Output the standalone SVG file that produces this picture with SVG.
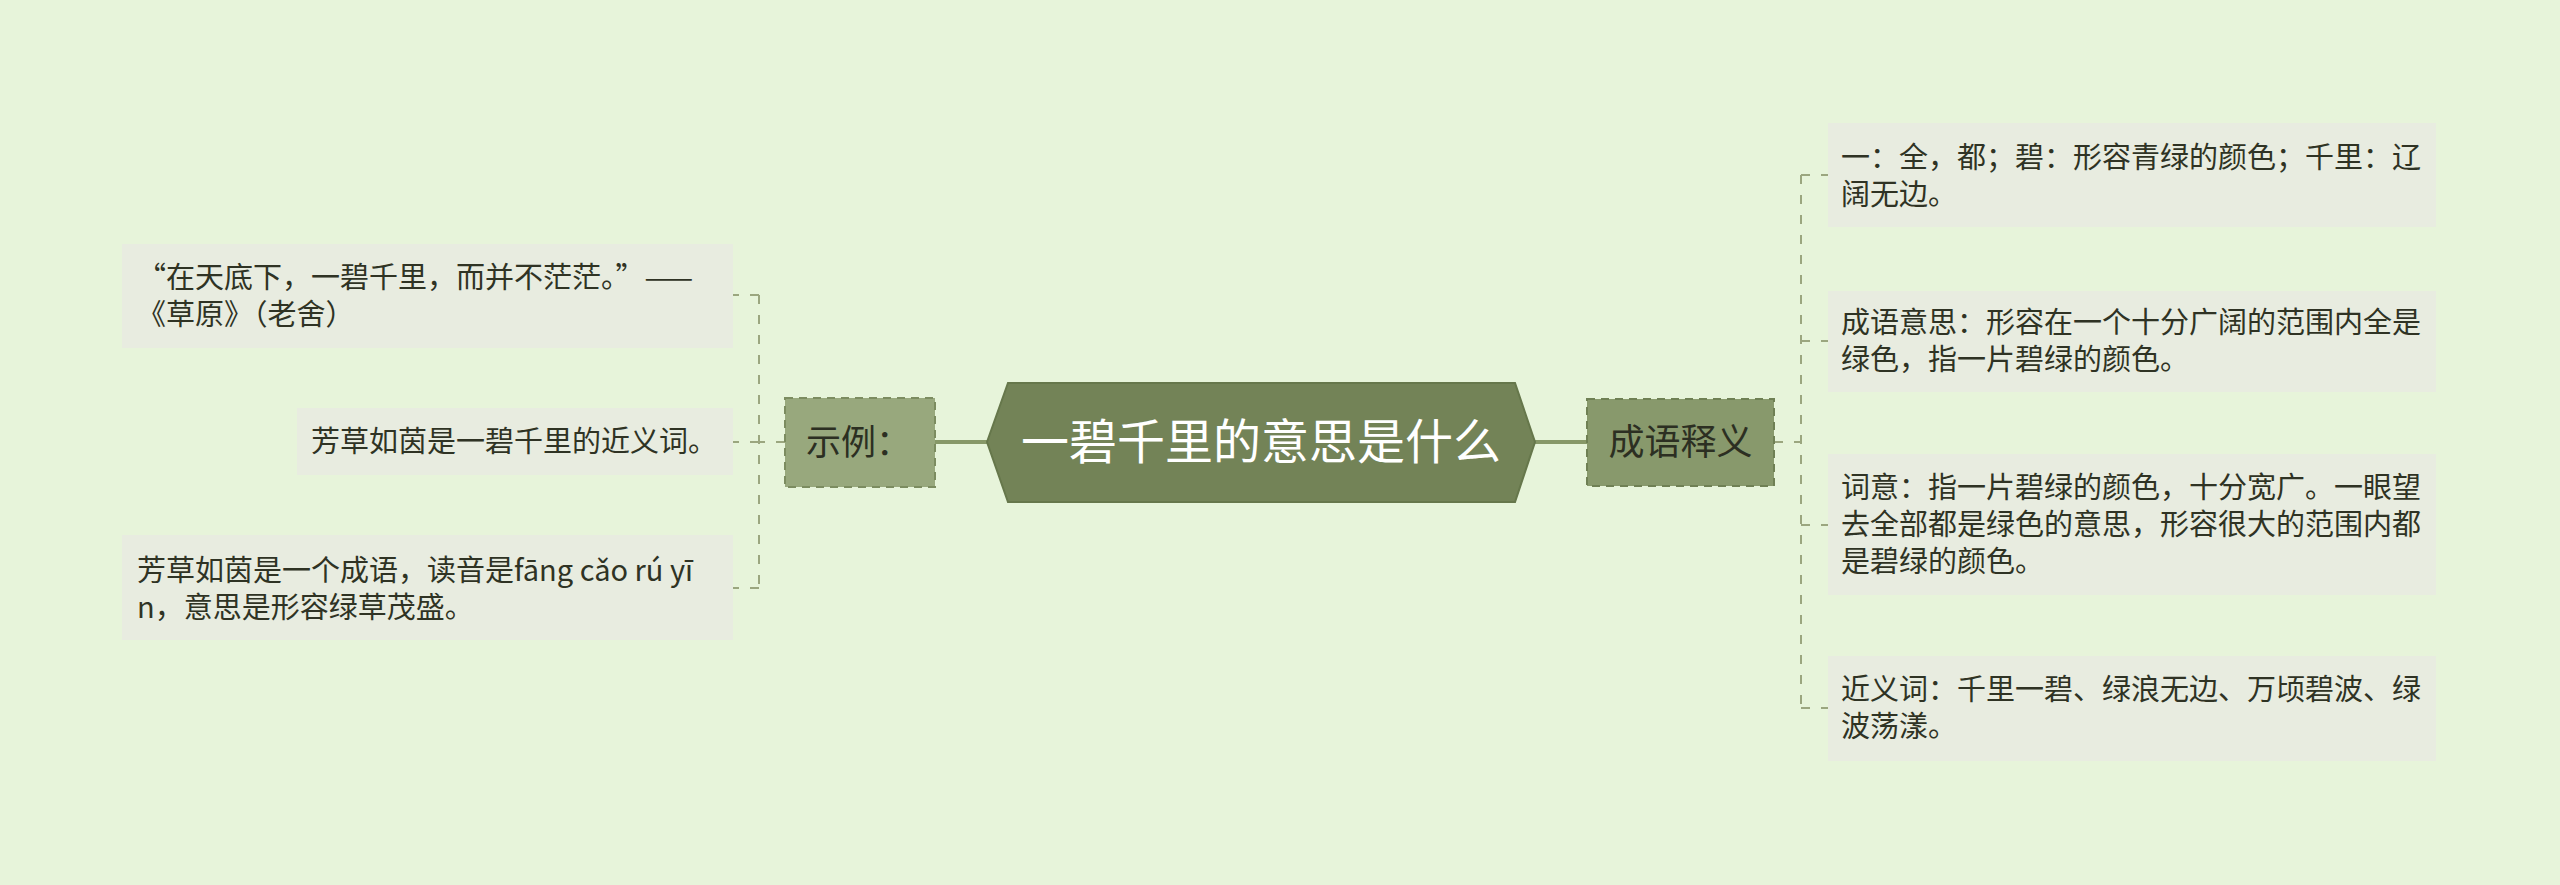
<svg xmlns="http://www.w3.org/2000/svg" width="2560" height="885" viewBox="0 0 2560 885">
<style>
.leaf{fill:#e8ece0;}
.lt{font-family:"Noto Sans CJK SC","Noto Sans",sans-serif;font-size:29px;fill:#2f3324;}
.mid{font-family:"Noto Sans CJK SC","Noto Sans",sans-serif;font-size:35px;fill:#2c2f22;}
.dash{fill:none;stroke:#9ba67f;stroke-width:2;stroke-dasharray:9 11;}
.solid{fill:none;stroke:#879868;stroke-width:4;}
</style>
<rect x="0" y="0" width="2560" height="885" fill="#e7f4da"/>
<g id="connectors">
<line class="solid" x1="935" y1="442" x2="987" y2="442"/>
<line class="solid" x1="1535" y1="442" x2="1587" y2="442"/>
<path class="dash" d="M785 442 H759 M759 295 V588 M759 295 H733 M759 442 H733 M759 588 H733"/>
<path class="dash" d="M1774 442 H1801 M1801 175 V708 M1801 175 H1828 M1801 341 H1828 M1801 525 H1828 M1801 708 H1828"/>
</g>
<g id="root">
<polygon points="987,442 1008,383 1515,383 1535,442 1515,502 1008,502" fill="#738357" stroke="#66774b" stroke-width="2"/>
<text x="1261" y="459" text-anchor="middle" font-family="Noto Sans CJK SC, sans-serif" font-size="48" fill="#ffffff">一碧千里的意思是什么</text>
</g>
<g id="branch-right">
<rect x="1587" y="399" width="187" height="87" fill="#88996c" stroke="#6f8054" stroke-width="2" stroke-dasharray="8 6"/>
<text class="mid" x="1680.5" y="455" text-anchor="middle" font-size="36" style="font-size:36px">成语释义</text>
</g>
<g id="branch-left">
<rect x="785" y="398" width="150" height="89" fill="#98a87d" stroke="#7c8c60" stroke-width="2" stroke-dasharray="8 6"/>
<text class="mid" x="806" y="455">示例：</text>
</g>
<g id="r1">
<rect class="leaf" x="1828" y="123" width="608" height="104"/>
<text class="lt" x="1841" y="168">一：全，都；碧：形容青绿的颜色；千里：辽</text>
<text class="lt" x="1841" y="205">阔无边。</text>
</g>
<g id="r2">
<rect class="leaf" x="1828" y="291" width="608" height="101"/>
<text class="lt" x="1841" y="333">成语意思：形容在一个十分广阔的范围内全是</text>
<text class="lt" x="1841" y="370">绿色，指一片碧绿的颜色。</text>
</g>
<g id="r3">
<rect class="leaf" x="1828" y="454" width="608" height="141"/>
<text class="lt" x="1841" y="498">词意：指一片碧绿的颜色，十分宽广。一眼望</text>
<text class="lt" x="1841" y="535">去全部都是绿色的意思，形容很大的范围内都</text>
<text class="lt" x="1841" y="572">是碧绿的颜色。</text>
</g>
<g id="r4">
<rect class="leaf" x="1828" y="656" width="608" height="105"/>
<text class="lt" x="1841" y="700">近义词：千里一碧、绿浪无边、万顷碧波、绿</text>
<text class="lt" x="1841" y="737">波荡漾。</text>
</g>
<g id="l1">
<rect class="leaf" x="122" y="244" width="611" height="104"/>
<text class="lt" x="137" y="288">“在天底下，一碧千里，而并不茫茫。”——</text>
<text class="lt" x="137" y="325">《草原》（老舍）</text>
</g>
<g id="l2">
<rect class="leaf" x="297" y="408" width="436" height="67"/>
<text class="lt" x="311" y="452">芳草如茵是一碧千里的近义词。</text>
</g>
<g id="l3">
<rect class="leaf" x="122" y="535" width="611" height="105"/>
<text class="lt" x="137" y="581">芳草如茵是一个成语，读音是fāng cǎo rú yī</text>
<text class="lt" x="137" y="618">n，意思是形容绿草茂盛。</text>
</g>
</svg>
